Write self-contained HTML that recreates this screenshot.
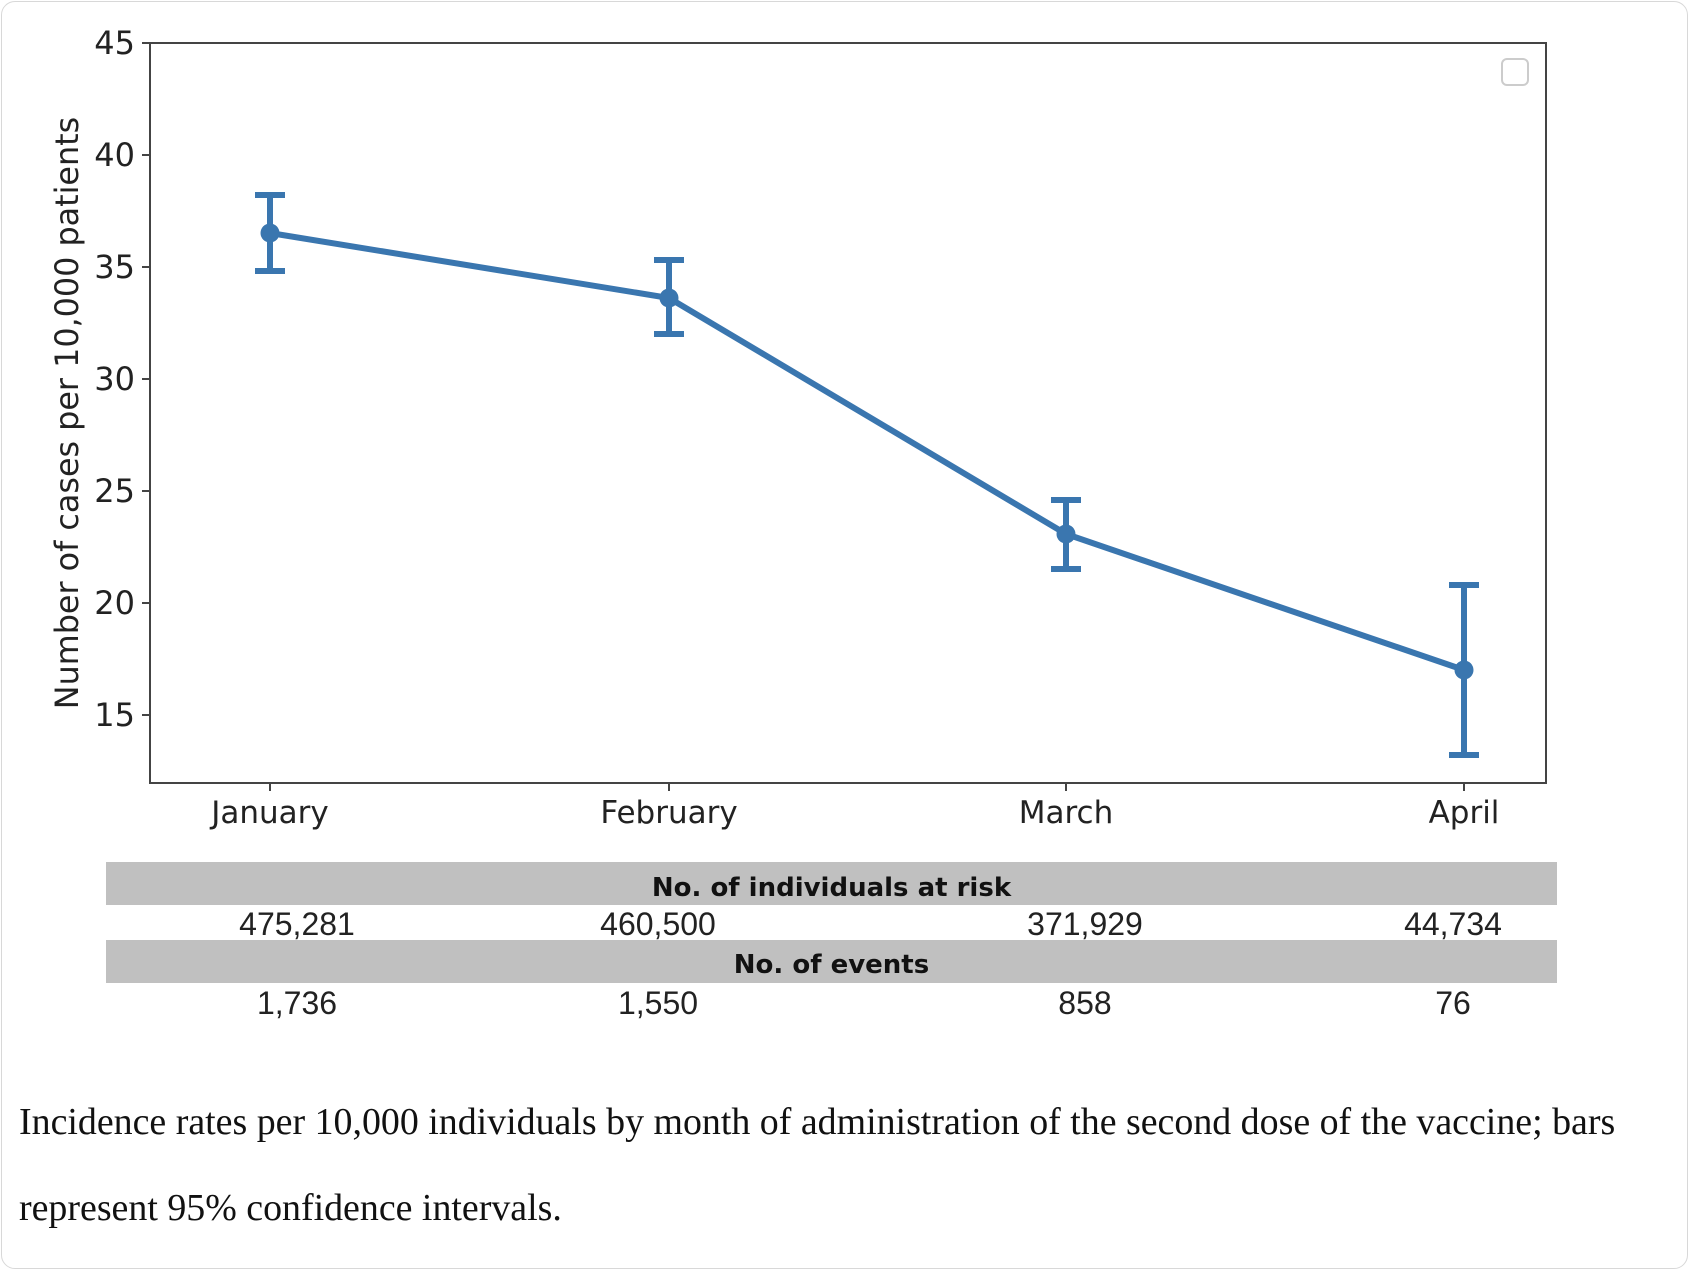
<!DOCTYPE html>
<html><head><meta charset="utf-8"><style>
html,body{margin:0;padding:0;background:#fff;}
body{width:1692px;height:1272px;position:relative;overflow:hidden;font-family:"DejaVu Sans","Liberation Sans",sans-serif;}
.frame{position:absolute;left:1px;top:1px;width:1687px;height:1268px;border:1px solid #d8d8d8;border-radius:14px;box-sizing:border-box;}
.band{position:absolute;left:106px;width:1451px;background:#c0c0c0;font-family:"DejaVu Sans",sans-serif;font-weight:bold;font-size:26px;text-align:center;color:#111;}
.cell{position:absolute;font-family:"Liberation Sans",sans-serif;font-size:32px;color:#222;transform:translateX(-50%);}
.cap{position:absolute;left:19px;font-family:"Liberation Serif",serif;font-size:37.9px;color:#111;white-space:nowrap;}
</style></head><body>
<div class="frame"></div>
<svg width="1692" height="860" style="position:absolute;left:0;top:0" font-family="DejaVu Sans, sans-serif">
<rect x="150" y="43" width="1396" height="740" fill="none" stroke="#444" stroke-width="2"/>
<g stroke="#444" stroke-width="2">
<line x1="142" y1="43" x2="150" y2="43"/><line x1="142" y1="155" x2="150" y2="155"/><line x1="142" y1="267" x2="150" y2="267"/><line x1="142" y1="379" x2="150" y2="379"/><line x1="142" y1="491" x2="150" y2="491"/><line x1="142" y1="603" x2="150" y2="603"/><line x1="142" y1="715" x2="150" y2="715"/>
<line x1="270" y1="783" x2="270" y2="791"/><line x1="669" y1="783" x2="669" y2="791"/><line x1="1066" y1="783" x2="1066" y2="791"/><line x1="1464" y1="783" x2="1464" y2="791"/>
</g>
<g font-size="32" fill="#222" text-anchor="end">
<text x="135" y="54">45</text><text x="135" y="166">40</text><text x="135" y="278">35</text><text x="135" y="390">30</text><text x="135" y="502">25</text><text x="135" y="614">20</text><text x="135" y="726">15</text>
</g>
<g font-size="31" fill="#222" text-anchor="middle">
<text x="270" y="823">January</text><text x="669" y="823">February</text><text x="1066" y="823">March</text><text x="1464" y="823">April</text>
</g>
<text transform="translate(78,413) rotate(-90)" font-size="31.8" fill="#222" text-anchor="middle">Number of cases per 10,000 patients</text>
<rect x="1502" y="59" width="26" height="26" rx="5" fill="none" stroke="#ccc" stroke-width="2"/>
<g stroke="#3a76af" stroke-width="6" fill="none">
<polyline points="270,233 669,298 1066,534 1464,670"/>
<line x1="270" y1="195" x2="270" y2="271"/><line x1="255" y1="195" x2="285" y2="195"/><line x1="255" y1="271" x2="285" y2="271"/>
<line x1="669" y1="260" x2="669" y2="334"/><line x1="654" y1="260" x2="684" y2="260"/><line x1="654" y1="334" x2="684" y2="334"/>
<line x1="1066" y1="500" x2="1066" y2="569"/><line x1="1051" y1="500" x2="1081" y2="500"/><line x1="1051" y1="569" x2="1081" y2="569"/>
<line x1="1464" y1="585" x2="1464" y2="755"/><line x1="1449" y1="585" x2="1479" y2="585"/><line x1="1449" y1="755" x2="1479" y2="755"/>
</g>
<g fill="#3a76af"><circle cx="270" cy="233" r="9.5"/><circle cx="669" cy="298" r="9.5"/><circle cx="1066" cy="534" r="9.5"/><circle cx="1464" cy="670" r="9.5"/></g>
</svg>
<div class="band" style="top:862px;height:43px;line-height:52px;">No. of individuals at risk</div>
<div class="cell" style="left:297px;top:906px;">475,281</div>
<div class="cell" style="left:658px;top:906px;">460,500</div>
<div class="cell" style="left:1085px;top:906px;">371,929</div>
<div class="cell" style="left:1453px;top:906px;">44,734</div>
<div class="band" style="top:940px;height:43px;line-height:50px;">No. of events</div>
<div class="cell" style="left:297px;top:985px;">1,736</div>
<div class="cell" style="left:658px;top:985px;">1,550</div>
<div class="cell" style="left:1085px;top:985px;">858</div>
<div class="cell" style="left:1453px;top:985px;">76</div>
<div class="cap" style="top:1100px;">Incidence rates per 10,000 individuals by month of administration of the second dose of the vaccine; bars</div>
<div class="cap" style="top:1186px;">represent 95% confidence intervals.</div>
</body></html>
